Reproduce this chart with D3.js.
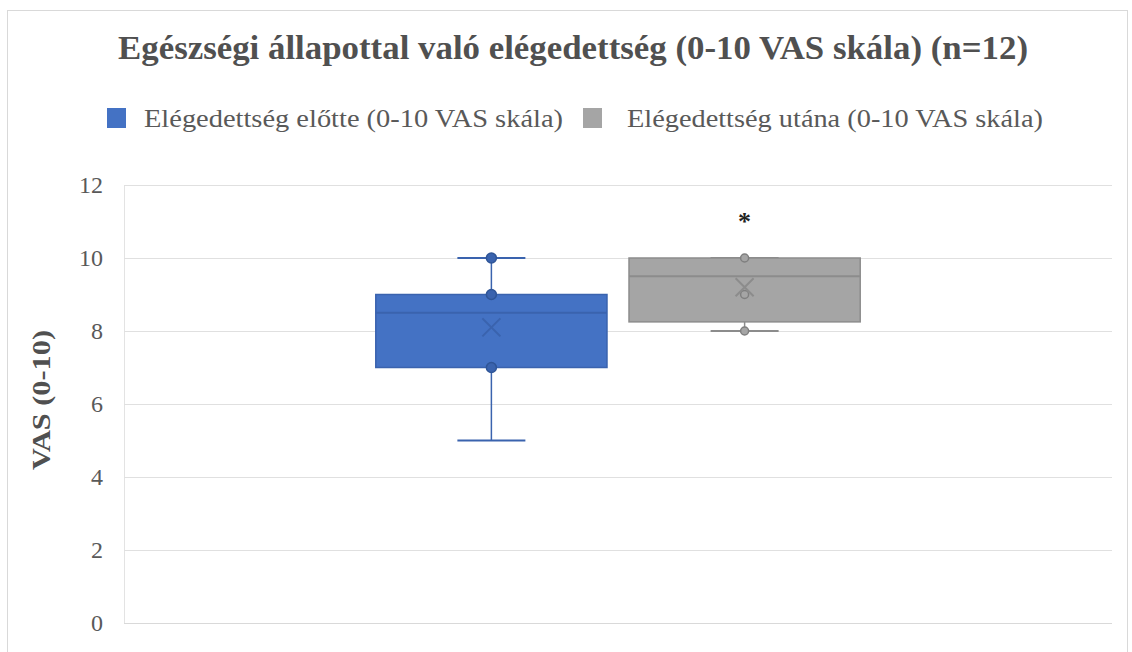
<!DOCTYPE html>
<html><head><meta charset="utf-8">
<script src="https://cdn.jsdelivr.net/npm/d3@7"></script>
<style>body{margin:0;background:#fff;} svg{display:block;}</style>
</head><body>
<svg id="chart" width="1132" height="652"></svg>
<script>
const title = "Egészségi állapottal való elégedettség (0-10 VAS skála) (n=12)";
const categories = ["VAS"];
const series = ["Elégedettség előtte (0-10 VAS skála)", "Elégedettség utána (0-10 VAS skála)"];
const colors = ["#4472C4", "#A5A5A5"];
const strokeColors = ["#3A63AE", "#8C8C8C"];
const whiskerLow = [5, 8];
const q1 = [7, 8.25];
const median = [8.5, 9.5];
const q3 = [9, 10];
const whiskerHigh = [10, 10];
const means = [8.1, 9.2];
const pointsBefore = [10, 9, 7];
const pointsAfter = [10, 9, 8];
const yTicks = [0, 2, 4, 6, 8, 10, 12];
const yLabel = "VAS (0-10)";
const sigMark = {series: 1, value: 11.1, text: "*"};

const svg = d3.select("#chart");
const W = 1132, H = 652;
const m = {left: 124, right: 20, top: 185, bottom: 29};
const font = "Liberation Serif, serif";
const textCol = "#595959";

svg.append("rect").attr("x", 7.5).attr("y", 10.5).attr("width", W - 12).attr("height", H)
  .attr("fill", "#fff").attr("stroke", "#d9d9d9").attr("stroke-width", 1);

const y = d3.scaleLinear().domain([0, 12]).range([H - m.bottom, m.top]);
const x0 = d3.scaleBand().domain(categories).range([m.left, W - m.right]).paddingInner(0.342).paddingOuter(0.342);
const x1 = d3.scaleBand().domain(series).range([0, x0.bandwidth()]).paddingInner(0.087).paddingOuter(0);

const yAxis = d3.axisLeft(y).tickValues(yTicks).tickSize(-(W - m.left - m.right)).tickPadding(21).tickFormat(d3.format("d"));
const gAxis = svg.append("g").attr("transform", `translate(${m.left},0)`).call(yAxis);
gAxis.select(".domain").attr("stroke", "#e3e3e3");
gAxis.selectAll(".tick line").attr("stroke", "#e0e0e0");
gAxis.selectAll(".tick text").style("font-family", font).attr("font-size", 24).attr("fill", textCol).attr("dy", "0.33em");
svg.append("line").attr("x1", m.left).attr("x2", W - m.right).attr("y1", y(0) + 0.5).attr("y2", y(0) + 0.5).attr("stroke", "#d9d9d9");

svg.append("text").attr("x", 573).attr("y", 59).attr("text-anchor", "middle")
  .style("font-family", font).attr("font-weight", "bold").attr("font-size", 33).attr("fill", "#505050")
  .attr("textLength", 910).attr("lengthAdjust", "spacingAndGlyphs").text(title);

const legendX = [107, 583], legendTextX = [144, 627], legendW = [419, 416];
series.forEach((s, i) => {
  svg.append("rect").attr("x", legendX[i]).attr("y", 108).attr("width", 19).attr("height", 20).attr("fill", colors[i]);
  svg.append("text").attr("x", legendTextX[i]).attr("y", 127).style("font-family", font).attr("font-size", 25)
    .attr("fill", textCol).attr("textLength", legendW[i]).attr("lengthAdjust", "spacingAndGlyphs").text(s);
});

svg.append("text").attr("transform", `translate(50,400) rotate(-90)`).attr("text-anchor", "middle")
  .style("font-family", font).attr("font-weight", "bold").attr("font-size", 25).attr("fill", "#505050")
  .attr("textLength", 140).attr("lengthAdjust", "spacingAndGlyphs").text(yLabel);

const pointSets = [pointsBefore, pointsAfter];
series.forEach((s, i) => {
  const bx = x0(categories[0]) + x1(s), bw = x1.bandwidth(), cx = bx + bw / 2;
  const g = svg.append("g");
  const capW = 68;
  g.append("line").attr("x1", cx).attr("x2", cx).attr("y1", y(whiskerLow[i])).attr("y2", y(q1[i])).attr("stroke", strokeColors[i]).attr("stroke-width", 1.5);
  g.append("line").attr("x1", cx).attr("x2", cx).attr("y1", y(q3[i])).attr("y2", y(whiskerHigh[i])).attr("stroke", strokeColors[i]).attr("stroke-width", 1.5);
  [whiskerLow[i], whiskerHigh[i]].forEach(v => {
    g.append("line").attr("x1", cx - capW / 2).attr("x2", cx + capW / 2).attr("y1", y(v)).attr("y2", y(v)).attr("stroke", strokeColors[i]).attr("stroke-width", 2);
  });
  g.append("rect").attr("x", bx).attr("y", y(q3[i])).attr("width", bw).attr("height", y(q1[i]) - y(q3[i]))
    .attr("fill", colors[i]).attr("stroke", strokeColors[i]).attr("stroke-width", 1.5);
  g.append("line").attr("x1", bx).attr("x2", bx + bw).attr("y1", y(median[i])).attr("y2", y(median[i])).attr("stroke", strokeColors[i]).attr("stroke-width", 2);
  g.selectAll("circle").data(pointSets[i]).join("circle").attr("cx", cx).attr("cy", d => y(d))
    .attr("r", i === 0 ? 5 : 4)
    .attr("fill", i === 0 ? "#3A63AE" : "#A5A5A5").attr("stroke", i === 0 ? "#2F5597" : "#7F7F7F").attr("stroke-width", 1.5);
  const mm = y(means[i]), s2 = 9;
  g.append("path").attr("d", `M${cx - s2},${mm - s2}L${cx + s2},${mm + s2}M${cx - s2},${mm + s2}L${cx + s2},${mm - s2}`)
    .attr("stroke", strokeColors[i]).attr("stroke-width", 2).attr("fill", "none");
});

{
  const s = series[sigMark.series];
  const cx = x0(categories[0]) + x1(s) + x1.bandwidth() / 2;
  svg.append("text").attr("x", cx).attr("y", y(sigMark.value) + 12).attr("text-anchor", "middle")
    .style("font-family", font).attr("font-weight", "bold").attr("font-size", 26).attr("fill", "#222").text(sigMark.text);
}
</script>
</body></html>
